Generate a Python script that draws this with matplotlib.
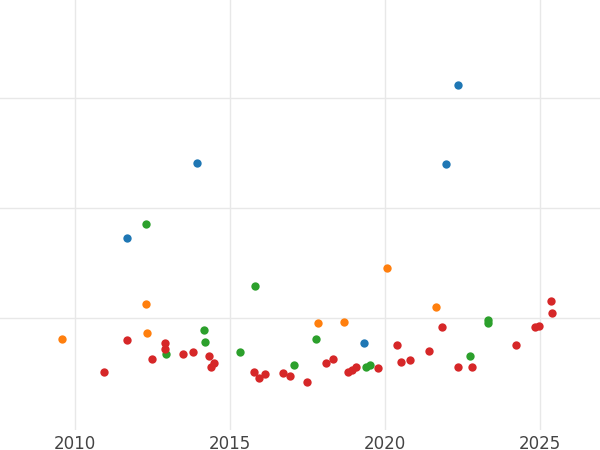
import matplotlib.pyplot as plt

blue_x = [2011.68, 2013.94, 2022.35, 2021.97, 2019.32]
blue_y = [1.73, 2.41, 3.12, 2.40, 0.77]

green_x = [2012.29, 2015.81, 2014.16, 2014.19, 2012.94, 2015.32, 2017.06, 2017.77,
           2019.39, 2019.52, 2023.32, 2023.32, 2022.74]
green_y = [1.85, 1.29, 0.89, 0.78, 0.67, 0.69, 0.57, 0.81, 0.55, 0.57, 0.98, 0.95, 0.65]

orange_x = [2009.58, 2012.29, 2012.32, 2017.84, 2018.68, 2020.06, 2021.65]
orange_y = [0.81, 1.13, 0.86, 0.95, 0.96, 1.45, 1.10]

red_x = [2010.94, 2011.68, 2012.48, 2012.90, 2012.90, 2013.48, 2013.81, 2014.32,
         2014.48, 2014.39, 2015.77, 2015.94, 2016.13, 2016.71, 2016.94, 2017.48,
         2018.10, 2018.32, 2018.81, 2018.94, 2019.06, 2019.77, 2020.39, 2020.52,
         2020.81, 2021.42, 2021.84, 2022.35, 2022.81, 2024.23, 2024.84, 2024.97,
         2025.35, 2025.39]
red_y = [0.51, 0.80, 0.63, 0.77, 0.72, 0.67, 0.69, 0.65, 0.59, 0.55, 0.51, 0.45,
         0.49, 0.50, 0.47, 0.42, 0.59, 0.63, 0.51, 0.53, 0.55, 0.54, 0.75, 0.60,
         0.62, 0.70, 0.92, 0.55, 0.55, 0.75, 0.92, 0.93, 1.15, 1.04]

fig = plt.figure(figsize=(6, 4.5), dpi=100)
ax = fig.add_axes([0, 20 / 450, 1, 430 / 450])

for xs, ys, c in [(blue_x, blue_y, "#1f77b4"), (green_x, green_y, "#2ca02c"),
                  (orange_x, orange_y, "#ff7f0e"), (red_x, red_y, "#d62728")]:
    ax.scatter(xs, ys, s=36, color=c, zorder=3, linewidths=0)

ax.set_xlim(2007.58, 2026.94)
ax.set_ylim(-0.02, 3.89)
ax.set_xticks([2010, 2015, 2020, 2025])
ax.set_yticks([1, 2, 3])
ax.set_yticklabels([])
ax.tick_params(length=0, labelsize=12, colors="#444444")
ax.grid(color="#e8e8e8", linewidth=1)
for s in ax.spines.values():
    s.set_visible(False)

fig.savefig("out.png")
